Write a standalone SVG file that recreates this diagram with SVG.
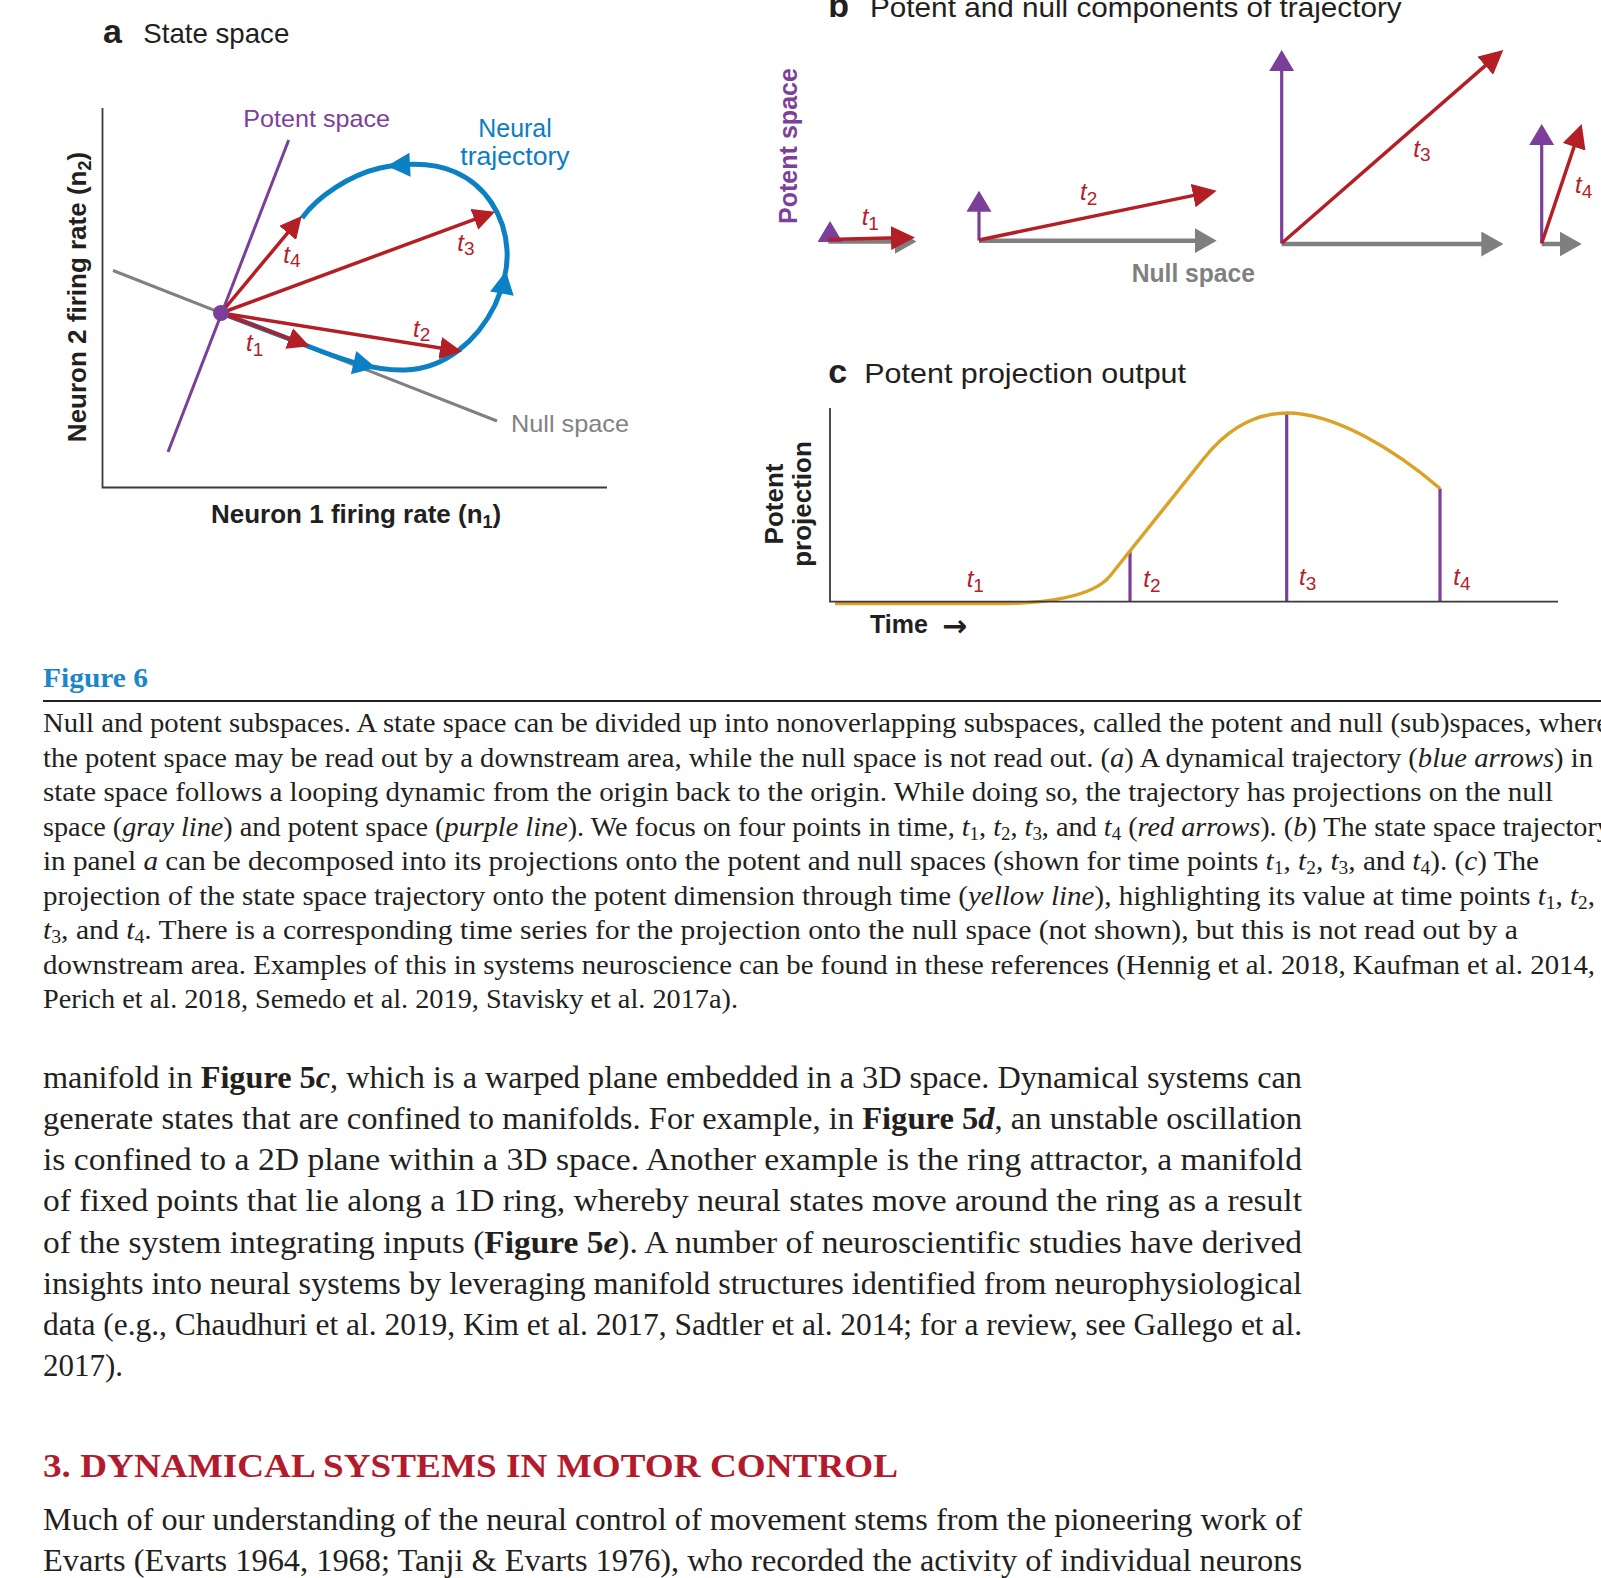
<svg xmlns="http://www.w3.org/2000/svg" width="1601" height="1578" viewBox="0 0 1601 1578">
<defs>
<style>
.sans{font-family:"Liberation Sans",Arial,sans-serif}
.serif{font-family:"Liberation Serif","Times New Roman",serif}
.ttl{font-size:28px;fill:#231f20}
.plet{font-size:34px;font-weight:bold;fill:#231f20}
.ax{stroke:#3b3b3b;stroke-width:1.8;fill:none}
.tl{font-size:24px;font-style:italic;fill:#b4202a}
.sub{font-size:19px;font-style:normal}
.red{stroke:#b31f24;stroke-width:3.5;fill:none}
.pur{stroke:#7b3f99;stroke-width:3.2;fill:none}
.gry{stroke:#7f7f7f;stroke-width:4.5;fill:none}
.axlab{font-size:26px;font-weight:bold;fill:#231f20}
.cap{font-size:27px;fill:#231f20}
.body{font-size:31px;fill:#231f20}
.i{font-style:italic}
.b{font-weight:bold}
.cs{font-size:18px}
</style>
<marker id="hRa" viewBox="0 0 22 22" markerWidth="22" markerHeight="22" refX="16" refY="11" orient="auto" markerUnits="userSpaceOnUse"><path d="M0,0L22,11L0,22z" fill="#b31f24"/></marker>
<marker id="hRb" viewBox="0 0 24 24" markerWidth="24" markerHeight="24" refX="18" refY="12" orient="auto" markerUnits="userSpaceOnUse"><path d="M0,0L24,12L0,24z" fill="#b31f24"/></marker>
<marker id="hP" viewBox="0 0 21 25" markerWidth="21" markerHeight="25" refX="15" refY="12.5" orient="auto" markerUnits="userSpaceOnUse"><path d="M0,0L21,12.5L0,25z" fill="#7b3f99"/></marker>
<marker id="hG" viewBox="0 0 22 25" markerWidth="22" markerHeight="25" refX="16" refY="12.5" orient="auto" markerUnits="userSpaceOnUse"><path d="M0,0L22,12.5L0,25z" fill="#7f7f7f"/></marker>
<path id="bh" d="M0,0L-23,-12L-23,12z" fill="#0b80c4"/>
</defs>
<rect width="1601" height="1578" fill="#ffffff"/>

<!-- Panel a -->
<g id="panel-a">
  <text class="sans plet" x="103" y="42.7">a</text>
  <text class="sans ttl" x="143.3" y="42.7" textLength="146" lengthAdjust="spacingAndGlyphs">State space</text>
  <path id="a-axes" class="ax" d="M102.5,108V487.5H607"/>
  <text class="sans axlab" transform="translate(86,297) rotate(-90)" text-anchor="middle">Neuron 2 firing rate (n<tspan font-size="18" dy="5">2</tspan><tspan dy="-5">)</tspan></text>
  <text class="sans axlab" x="211" y="523">Neuron 1 firing rate (n<tspan font-size="18" dy="5">1</tspan><tspan dy="-5">)</tspan></text>
  <g id="a-null-space">
    <line x1="113" y1="270.5" x2="497" y2="421" stroke="#808080" stroke-width="3"/>
    <text class="sans" x="511" y="432" font-size="24" fill="#808285" textLength="118" lengthAdjust="spacingAndGlyphs">Null space</text>
  </g>
  <g id="a-potent-space">
    <line x1="288.7" y1="140" x2="168" y2="452" stroke="#7b3f99" stroke-width="3"/>
    <text class="sans" x="243.3" y="126.7" font-size="24" fill="#7d3f98" textLength="146.7" lengthAdjust="spacingAndGlyphs">Potent space</text>
  </g>
  <g id="a-trajectory">
    <path d="M221,313L300,343C345,361 375,371 405,370C445,369 478,340 495,305C504,285 508,265 507,250C505,215 485,185 455,172C432,162 405,163 380,168C350,175 318,196 302,218" fill="none" stroke="#0b80c4" stroke-width="5"/>
    <use href="#bh" transform="translate(376,367.8) rotate(13)"/>
    <use href="#bh" transform="translate(506,271) rotate(-79.7)"/>
    <use href="#bh" transform="translate(387,166) rotate(177)"/>
    <text class="sans" x="515" y="137.3" font-size="25" fill="#0b7dc1" text-anchor="middle" textLength="73.4" lengthAdjust="spacingAndGlyphs">Neural</text>
    <text class="sans" x="515" y="165" font-size="25" fill="#0b7dc1" text-anchor="middle" textLength="109.3" lengthAdjust="spacingAndGlyphs">trajectory</text>
  </g>
  <g id="a-vectors">
    <path class="red" d="M221,313L304.1,344.2" marker-end="url(#hRa)"/>
    <path class="red" d="M221,313L456,350.5" marker-end="url(#hRa)"/>
    <path class="red" d="M221,313L489.4,213.8" marker-end="url(#hRa)"/>
    <path class="red" d="M221,313L297.9,220.6" marker-end="url(#hRa)"/>
  </g>
  <circle id="a-origin" cx="221" cy="313" r="8" fill="#7b3f99"/>
  <g id="a-labels">
    <text class="sans tl" x="246" y="351">t<tspan class="sub" dy="5">1</tspan></text>
    <text class="sans tl" x="413" y="337">t<tspan class="sub" dy="4">2</tspan></text>
    <text class="sans tl" x="457.3" y="250.7">t<tspan class="sub" dy="4">3</tspan></text>
    <text class="sans tl" x="283.3" y="263.3">t<tspan class="sub" dy="4">4</tspan></text>
  </g>
</g>

<!-- Panel b -->
<g id="panel-b">
  <text class="sans plet" x="828.3" y="17.3">b</text>
  <text class="sans ttl" x="870" y="17.3" textLength="531.7" lengthAdjust="spacingAndGlyphs">Potent and null components of trajectory</text>
  <text class="sans" transform="translate(797,146) rotate(-90)" text-anchor="middle" font-size="25" font-weight="bold" fill="#7d3f98" textLength="156" lengthAdjust="spacingAndGlyphs">Potent space</text>
  <text class="sans" x="1131.7" y="281.7" font-size="25" font-weight="bold" fill="#808080" textLength="123.3" lengthAdjust="spacingAndGlyphs">Null space</text>
  <g id="b-t1">
    <path class="gry" d="M828.3,241.5H910.5" marker-end="url(#hG)"/>
    <path class="pur" d="M830,242V227" marker-end="url(#hP)"/>
    <path class="red" d="M828.3,239.5L909,237.6" marker-end="url(#hRb)"/>
    <text class="sans tl" x="861.7" y="225">t<tspan class="sub" dy="5">1</tspan></text>
  </g>
  <g id="b-t2">
    <path class="gry" d="M979,240.7H1210.7" marker-end="url(#hG)"/>
    <path class="pur" d="M979,240.5V196.7" marker-end="url(#hP)"/>
    <path class="red" d="M979,240L1210.8,191.9" marker-end="url(#hRb)"/>
    <text class="sans tl" x="1080" y="200">t<tspan class="sub" dy="5">2</tspan></text>
  </g>
  <g id="b-t3">
    <path class="gry" d="M1281.7,244H1497.3" marker-end="url(#hG)"/>
    <path class="pur" d="M1281.7,243.5V56" marker-end="url(#hP)"/>
    <path class="red" d="M1281.7,243.3L1498.8,53.9" marker-end="url(#hRb)"/>
    <text class="sans tl" x="1413.3" y="156.7">t<tspan class="sub" dy="4">3</tspan></text>
  </g>
  <g id="b-t4">
    <path class="gry" d="M1541.7,244H1575.7" marker-end="url(#hG)"/>
    <path class="pur" d="M1541.7,243.5V130" marker-end="url(#hP)"/>
    <path class="red" d="M1541.7,243.3L1579.8,129.7" marker-end="url(#hRb)"/>
    <text class="sans tl" x="1575" y="192.7">t<tspan class="sub" dy="5">4</tspan></text>
  </g>
</g>

<!-- Panel c -->
<g id="panel-c">
  <text class="sans plet" x="828.3" y="382.7">c</text>
  <text class="sans ttl" x="864.3" y="382.7" textLength="321.7" lengthAdjust="spacingAndGlyphs">Potent projection output</text>
  <text class="sans axlab" transform="translate(783.3,504) rotate(-90)" text-anchor="middle">Potent</text>
  <text class="sans axlab" transform="translate(810.7,504) rotate(-90)" text-anchor="middle">projection</text>
  <text class="sans" x="870" y="632.7" font-size="25" font-weight="bold" fill="#231f20">Time<tspan x="942" y="636" font-family="DejaVu Sans, sans-serif" font-size="30">→</tspan></text>
  <g id="c-markers">
    <line class="pur" x1="1130" y1="551" x2="1130" y2="601.7"/>
    <line class="pur" x1="1286.7" y1="413" x2="1286.7" y2="601.7"/>
    <line class="pur" x1="1440" y1="488.5" x2="1440" y2="601.7"/>
  </g>
  <path id="c-curve" d="M835,603.5L1000,603.5C1045,603.5 1093,597 1110,576L1205,457C1230,426 1258,413 1287,413C1335,413 1395,450 1440,488.5" fill="none" stroke="#dba229" stroke-width="3.5"/>
  <path id="c-axes" class="ax" d="M830,408V601.7H1558"/>
  <g id="c-labels">
    <text class="sans tl" x="966.7" y="586.7">t<tspan class="sub" dy="5">1</tspan></text>
    <text class="sans tl" x="1143.3" y="586.7">t<tspan class="sub" dy="5">2</tspan></text>
    <text class="sans tl" x="1299" y="585">t<tspan class="sub" dy="5">3</tspan></text>
    <text class="sans tl" x="1453.3" y="585">t<tspan class="sub" dy="5">4</tspan></text>
  </g>
</g>

<!-- Caption -->
<g id="caption" class="serif">
  <text x="43" y="687" font-size="28" font-weight="bold" fill="#1b87c9" textLength="105" lengthAdjust="spacingAndGlyphs">Figure 6</text>
  <line x1="43" y1="701" x2="1601" y2="701" stroke="#231f20" stroke-width="2"/>
  <text class="cap" x="43" y="732" textLength="1566" lengthAdjust="spacingAndGlyphs">Null and potent subspaces. A state space can be divided up into nonoverlapping subspaces, called the potent and null (sub)spaces, where</text>
  <text class="cap" x="43" y="766.5" textLength="1550" lengthAdjust="spacingAndGlyphs">the potent space may be read out by a downstream area, while the null space is not read out. (<tspan class="i">a</tspan>) A dynamical trajectory (<tspan class="i">blue arrows</tspan>) in</text>
  <text class="cap" x="43" y="801" textLength="1510" lengthAdjust="spacingAndGlyphs">state space follows a looping dynamic from the origin back to the origin. While doing so, the trajectory has projections on the null</text>
  <text class="cap" x="43" y="835.5" textLength="1568" lengthAdjust="spacingAndGlyphs">space (<tspan class="i">gray line</tspan>) and potent space (<tspan class="i">purple line</tspan>). We focus on four points in time, <tspan class="i">t</tspan><tspan class="cs" dy="4">1</tspan><tspan dy="-4">, </tspan><tspan class="i">t</tspan><tspan class="cs" dy="4">2</tspan><tspan dy="-4">, </tspan><tspan class="i">t</tspan><tspan class="cs" dy="4">3</tspan><tspan dy="-4">, and </tspan><tspan class="i">t</tspan><tspan class="cs" dy="4">4</tspan><tspan dy="-4"> (</tspan><tspan class="i">red arrows</tspan>). (<tspan class="i">b</tspan>) The state space trajectory</text>
  <text class="cap" x="43" y="870" textLength="1496" lengthAdjust="spacingAndGlyphs">in panel <tspan class="i">a</tspan> can be decomposed into its projections onto the potent and null spaces (shown for time points <tspan class="i">t</tspan><tspan class="cs" dy="4">1</tspan><tspan dy="-4">, </tspan><tspan class="i">t</tspan><tspan class="cs" dy="4">2</tspan><tspan dy="-4">, </tspan><tspan class="i">t</tspan><tspan class="cs" dy="4">3</tspan><tspan dy="-4">, and </tspan><tspan class="i">t</tspan><tspan class="cs" dy="4">4</tspan><tspan dy="-4">). (</tspan><tspan class="i">c</tspan>) The</text>
  <text class="cap" x="43" y="904.5" textLength="1552" lengthAdjust="spacingAndGlyphs">projection of the state space trajectory onto the potent dimension through time (<tspan class="i">yellow line</tspan>), highlighting its value at time points <tspan class="i">t</tspan><tspan class="cs" dy="4">1</tspan><tspan dy="-4">, </tspan><tspan class="i">t</tspan><tspan class="cs" dy="4">2</tspan><tspan dy="-4">,</tspan></text>
  <text class="cap" x="43" y="939" textLength="1475" lengthAdjust="spacingAndGlyphs"><tspan class="i">t</tspan><tspan class="cs" dy="4">3</tspan><tspan dy="-4">, and </tspan><tspan class="i">t</tspan><tspan class="cs" dy="4">4</tspan><tspan dy="-4">. There is a corresponding time series for the projection onto the null space (not shown), but this is not read out by a</tspan></text>
  <text class="cap" x="43" y="973.5" textLength="1552" lengthAdjust="spacingAndGlyphs">downstream area. Examples of this in systems neuroscience can be found in these references (Hennig et al. 2018, Kaufman et al. 2014,</text>
  <text class="cap" x="43" y="1008" textLength="695" lengthAdjust="spacingAndGlyphs">Perich et al. 2018, Semedo et al. 2019, Stavisky et al. 2017a).</text>
</g>

<!-- Body text -->
<g id="body-text" class="serif">
  <text class="body" x="43" y="1087.5" textLength="1259" lengthAdjust="spacingAndGlyphs">manifold in <tspan class="b">Figure 5<tspan class="i">c</tspan></tspan>, which is a warped plane embedded in a 3D space. Dynamical systems can</text>
  <text class="body" x="43" y="1128.8" textLength="1259" lengthAdjust="spacingAndGlyphs">generate states that are confined to manifolds. For example, in <tspan class="b">Figure 5<tspan class="i">d</tspan></tspan>, an unstable oscillation</text>
  <text class="body" x="43" y="1170" textLength="1259" lengthAdjust="spacingAndGlyphs">is confined to a 2D plane within a 3D space. Another example is the ring attractor, a manifold</text>
  <text class="body" x="43" y="1211.3" textLength="1259" lengthAdjust="spacingAndGlyphs">of fixed points that lie along a 1D ring, whereby neural states move around the ring as a result</text>
  <text class="body" x="43" y="1252.5" textLength="1259" lengthAdjust="spacingAndGlyphs">of the system integrating inputs (<tspan class="b">Figure 5<tspan class="i">e</tspan></tspan>). A number of neuroscientific studies have derived</text>
  <text class="body" x="43" y="1293.8" textLength="1259" lengthAdjust="spacingAndGlyphs">insights into neural systems by leveraging manifold structures identified from neurophysiological</text>
  <text class="body" x="43" y="1335" textLength="1259" lengthAdjust="spacingAndGlyphs">data (e.g., Chaudhuri et al. 2019, Kim et al. 2017, Sadtler et al. 2014; for a review, see Gallego et al.</text>
  <text class="body" x="43" y="1376.3">2017).</text>
  <text x="43" y="1476.5" font-size="34" font-weight="bold" fill="#b31b2d" textLength="855" lengthAdjust="spacingAndGlyphs">3. DYNAMICAL SYSTEMS IN MOTOR CONTROL</text>
  <text class="body" x="43" y="1529.6" textLength="1259" lengthAdjust="spacingAndGlyphs">Much of our understanding of the neural control of movement stems from the pioneering work of</text>
  <text class="body" x="43" y="1570.5" textLength="1259" lengthAdjust="spacingAndGlyphs">Evarts (Evarts 1964, 1968; Tanji &amp; Evarts 1976), who recorded the activity of individual neurons</text>
</g>
</svg>
